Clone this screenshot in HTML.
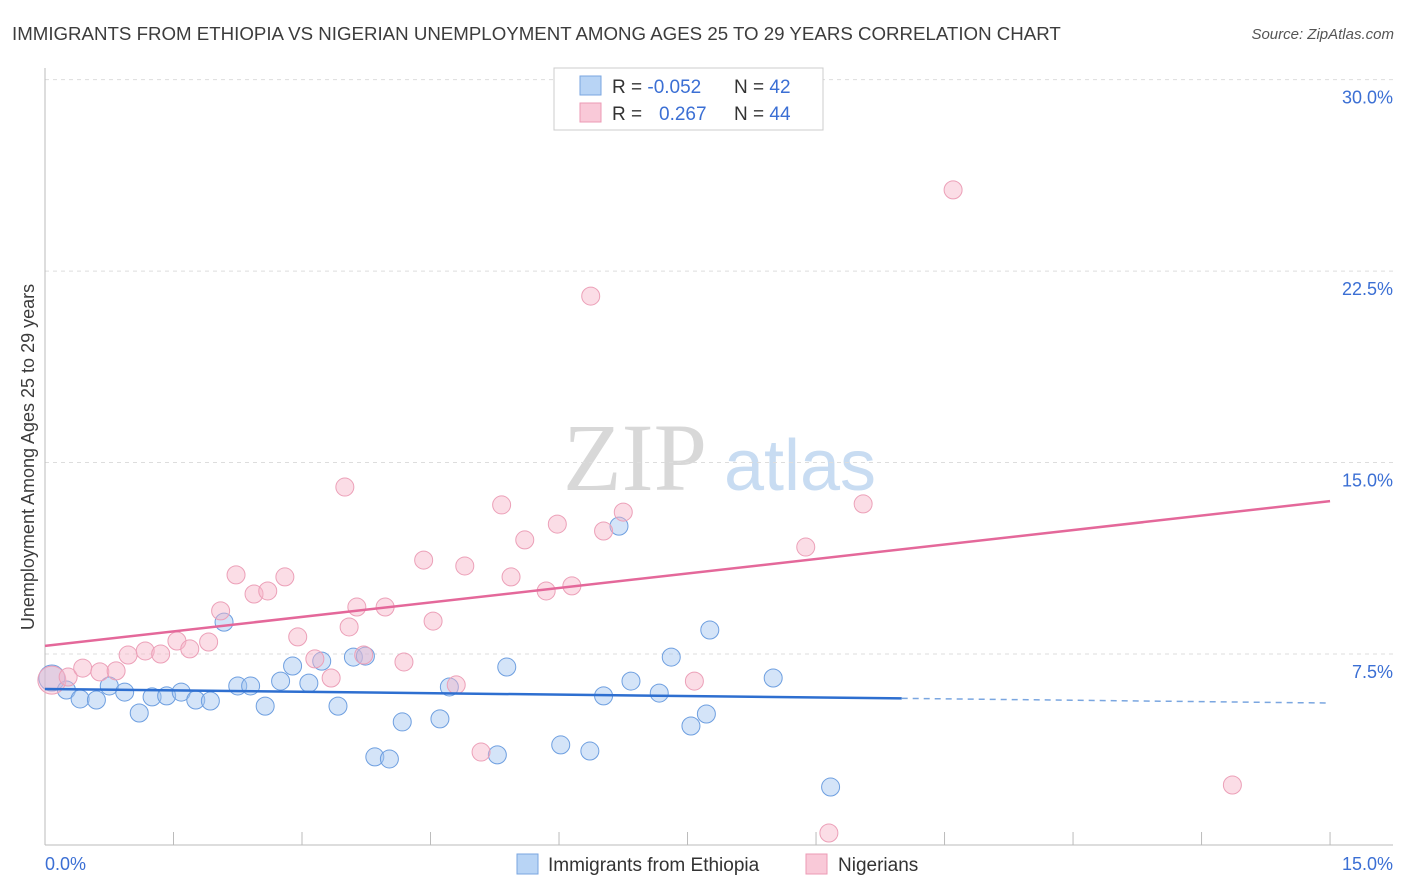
<!DOCTYPE html>
<html><head><meta charset="utf-8"><style>
body{margin:0;background:#fff;font-family:"Liberation Sans",sans-serif}
svg{display:block}
</style></head><body>
<svg id="chart" width="1406" height="892">
<text x="12" y="40" font-size="18.7" fill="#3c3c3c">IMMIGRANTS FROM ETHIOPIA VS NIGERIAN UNEMPLOYMENT AMONG AGES 25 TO 29 YEARS CORRELATION CHART</text>
<text x="1394" y="39" font-size="15" fill="#555" font-style="italic" text-anchor="end">Source: ZipAtlas.com</text>
<text x="635" y="490" font-size="96" fill="#d8d8d8" font-family="Liberation Serif,serif" text-anchor="middle">ZIP</text>
<text x="800" y="490" font-size="72" fill="#c8dcf2" text-anchor="middle">atlas</text>
<text transform="translate(34,457) rotate(-90)" font-size="18" fill="#3c3c3c" text-anchor="middle">Unemployment Among Ages 25 to 29 years</text>
<g id="grid"></g><g id="pts"></g><g id="lines"></g>
<g>
<rect x="554" y="68" width="269" height="62" fill="#fff" stroke="#ccc"/>
<rect x="580" y="76" width="21" height="19" fill="#b8d4f5" stroke="#7aa6e0"/>
<rect x="580" y="103" width="21" height="19" fill="#f9c9d8" stroke="#ec9ab5"/>
<text x="612" y="93" font-size="19" fill="#333">R = <tspan fill="#3b6fd4">-0.052</tspan></text>
<text x="734" y="93" font-size="19" fill="#333">N = <tspan fill="#3b6fd4">42</tspan></text>
<text x="612" y="120" font-size="19" fill="#333">R = <tspan fill="#3b6fd4" x="659">0.267</tspan></text>
<text x="734" y="120" font-size="19" fill="#333">N = <tspan fill="#3b6fd4">44</tspan></text>
</g>
<g>
<rect x="517" y="854" width="21" height="20" fill="#b8d4f5" stroke="#7aa6e0"/>
<text x="548" y="871" font-size="19" fill="#333">Immigrants from Ethiopia</text>
<rect x="806" y="854" width="21" height="20" fill="#f9c9d8" stroke="#ec9ab5"/>
<text x="838" y="871" font-size="19" fill="#333">Nigerians</text>
</g>
</svg>
<script>
const blueX=[0.08,0.25,0.41,0.60,0.75,0.93,1.10,1.25,1.42,1.59,1.76,1.93,2.09,2.25,2.40,2.57,2.75,2.89,3.08,3.23,3.42,3.60,3.74,3.85,4.02,4.17,4.61,4.72,5.28,5.39,6.02,6.36,6.52,6.70,6.84,7.17,7.31,7.54,7.72,7.76,8.50,9.17];
const blueY=[6.56,6.09,5.74,5.70,6.25,6.01,5.19,5.82,5.86,6.01,5.70,5.66,8.75,6.25,6.25,5.46,6.44,7.03,6.36,7.22,5.46,7.38,7.42,3.47,3.39,4.84,4.96,6.21,3.55,6.99,3.94,3.70,5.86,12.51,6.44,5.97,7.38,4.68,5.15,8.44,6.56,2.29];
const pinkX=[0.08,0.27,0.44,0.64,0.83,0.97,1.17,1.35,1.54,1.69,1.91,2.05,2.23,2.44,2.60,2.80,2.95,3.15,3.34,3.50,3.55,3.64,3.72,3.97,4.19,4.42,4.53,4.80,4.90,5.09,5.33,5.44,5.60,5.85,5.98,6.15,6.37,6.52,6.75,7.58,8.88,9.15,9.55,10.60,13.86];
const pinkY=[6.48,6.60,6.95,6.80,6.84,7.46,7.62,7.50,8.01,7.70,7.97,9.19,10.60,9.85,9.97,10.52,8.17,7.31,6.56,14.04,8.56,9.34,7.46,9.34,7.19,11.18,8.79,6.29,10.95,3.66,13.34,10.52,11.97,9.97,12.59,10.17,21.52,12.32,13.06,6.44,11.69,0.49,13.38,25.68,2.37];
const yTicks=[7.5,15,22.5,30];
const yTickLabels=["7.5%","15.0%","22.5%","30.0%"];
const xTicks=[0,1.5,3,4.5,6,7.5,9,10.5,12,13.5,15];
const blueTrend=[6.13,5.58];
const pinkTrend=[7.82,13.49];
const blueSolidEnd=10.0;
const NS='http://www.w3.org/2000/svg';
const X=v=>45+v*85.67, Y=v=>845.5-v*25.53;
function mk(p,t,a){const e=document.createElementNS(NS,t);for(const k in a)e.setAttribute(k,a[k]);p.appendChild(e);return e;}
const grid=document.getElementById('grid');
yTicks.forEach((t,i)=>{
 const l=mk(grid,'line',{x1:45,x2:1393,y1:Y(t),y2:Y(t),stroke:'#ddd','stroke-dasharray':'4,4'});
 
 
 const tx=mk(grid,'text',{x:1393,y:Y(t)+24,'text-anchor':'end','font-size':18,fill:'#3b6fd4'});
 tx.textContent=yTickLabels[i];
 
 
});
const ax=mk(grid,'line',{x1:45,x2:45,y1:68,y2:845,stroke:'#bbb'});


const bx=mk(grid,'line',{x1:45,x2:1393,y1:845,y2:845,stroke:'#bbb'});


xTicks.forEach(t=>{const l=mk(grid,'line',{x1:X(t),x2:X(t),y1:832,y2:845,stroke:'#bbb'});
 
 });
const l0=mk(grid,'text',{x:45,y:870,'font-size':18,fill:'#3b6fd4'});l0.textContent='0.0%';


const l1=mk(grid,'text',{x:1393,y:870,'font-size':18,fill:'#3b6fd4','text-anchor':'end'});l1.textContent='15.0%';


const pts=document.getElementById('pts');
blueX.forEach((x,i)=>{const c=mk(pts,'circle',{cx:X(x),cy:Y(blueY[i]),r:i==0?13:9,fill:'rgba(160,196,240,0.45)',stroke:'#6e9fe0','stroke-width':1});
 
 });
pinkX.forEach((x,i)=>{const c=mk(pts,'circle',{cx:X(x),cy:Y(pinkY[i]),r:i==0?14:9,fill:'rgba(246,180,200,0.45)',stroke:'#eca0b8','stroke-width':1});
 
 });
const lines=document.getElementById('lines');
const bAt=v=>blueTrend[0]+(blueTrend[1]-blueTrend[0])*v/15;
const t1=mk(lines,'line',{x1:X(0),y1:Y(blueTrend[0]),x2:X(blueSolidEnd),y2:Y(bAt(blueSolidEnd)),stroke:'#2e6fd0','stroke-width':2.5});


const t2=mk(lines,'line',{x1:X(blueSolidEnd),y1:Y(bAt(blueSolidEnd)),x2:X(15),y2:Y(blueTrend[1]),stroke:'#7aa6e0','stroke-width':1.5,'stroke-dasharray':'6,5'});


const t3=mk(lines,'line',{x1:X(0),y1:Y(pinkTrend[0]),x2:X(15),y2:Y(pinkTrend[1]),stroke:'#e4689a','stroke-width':2.5});


</script>
</body></html>
